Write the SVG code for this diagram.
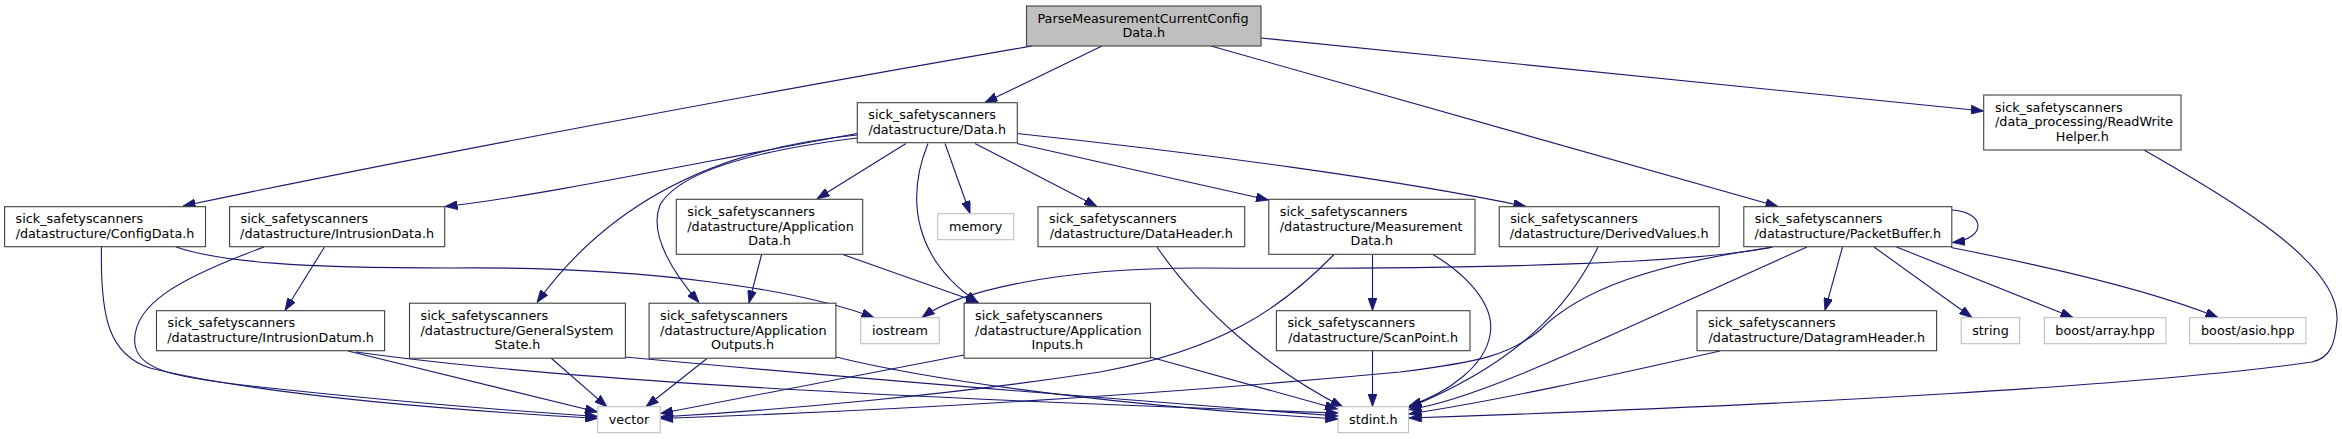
<svg xmlns="http://www.w3.org/2000/svg" width="2342" height="439" viewBox="0 0 2342 439">
<style>
  .n rect { fill: #ffffff; stroke: #404040; stroke-width: 1.1; }
  .n.root rect { fill: #bfbfbf; }
  .n.ext rect { stroke: #bfbfbf; }
  .n text { font-family: "DejaVu Sans", "Noto Sans", sans-serif; font-size: 12.75px; fill: #000000; }
  .n text.c { text-anchor: middle; }
  #edges path { fill: none; stroke: #191970; stroke-width: 1.1; marker-end: url(#arr); }
</style>
<defs>
  <marker id="arr" markerUnits="userSpaceOnUse" viewBox="0 0 12.5 9" refX="12.5" refY="4.5" markerWidth="12.5" markerHeight="9" orient="auto">
    <path d="M0,0 L12.5,4.5 L0,9 z" fill="#191970" stroke="#191970" stroke-width="0.8"/>
  </marker>
</defs>
<rect x="0" y="0" width="2342" height="439" fill="#ffffff"/>
<g id="edges">
  <path d="M1032,46 C800,86 450,150 183,206"/>
  <path d="M1102,46 L985,102.5"/>
  <path d="M1211,46 L1778,206.5"/>
  <path d="M1261,38 L1983.5,111"/>
  <path d="M857,133.5 C700,162 540,196 445,206.5"/>
  <path d="M857,135 C700,150 600,215 537,302.5"/>
  <path d="M857,138 C760,150 680,170 660,205 C648,235 675,275 699,302.5"/>
  <path d="M906,143.5 L817,198.8"/>
  <path d="M928,143.5 C905,200 915,260 978,302.5"/>
  <path d="M945,143.5 L970,213.5"/>
  <path d="M975,143.5 L1097,206.5"/>
  <path d="M1017,143.5 L1268.5,200"/>
  <path d="M1017,133.5 C1200,153 1400,180 1526,206.5"/>
  <path d="M101.5,247 C100,320 110,355 150,368 C260,395 450,410 597.5,418.5"/>
  <path d="M176,247 C220,262 300,268 450,268 C650,266 800,290 874,317.5"/>
  <path d="M324.5,247 L285,310.5"/>
  <path d="M264,247 C180,278 130,305 135,345 C140,372 180,378 260,387 C380,400 500,410 597.5,416.5"/>
  <path d="M348,351 L597.5,412"/>
  <path d="M356,352 C520,375 800,395 1338,413"/>
  <path d="M551,358 L607,406.8"/>
  <path d="M625,357 C850,378 1100,398 1338,416"/>
  <path d="M761.6,254.5 L749,303"/>
  <path d="M842.8,254.5 L978.6,302.5"/>
  <path d="M707,358.5 L646,406.8"/>
  <path d="M836,357 C950,385 1150,408 1338,419"/>
  <path d="M964,355 L660.5,413.5"/>
  <path d="M1150,357 L1337.5,409"/>
  <path d="M1334,254.5 C1280,310 1220,350 1100,372 C950,395 780,410 660.5,417"/>
  <path d="M1372.5,254.5 L1372.5,310.5"/>
  <path d="M1433,254.5 C1475,280 1495,310 1490,335 C1485,365 1450,392 1409,406"/>
  <path d="M1157,247 C1200,310 1270,370 1343,407"/>
  <path d="M1598,247 C1570,305 1520,362 1409,407.5"/>
  <path d="M1372.5,351 L1372.5,406.5"/>
  <path d="M1720,351 C1600,378 1500,400 1409,414"/>
  <path d="M1952,210 C1985,212 1988,238 1952.5,242.5"/>
  <path d="M1773,247 C1700,262 1500,270 1200,268 C1060,268 960,290 922,317.5"/>
  <path d="M1770,247.5 C1650,265 1580,290 1540,330 C1510,355 1480,362 1400,372 C1100,400 850,412 660.5,418.5"/>
  <path d="M1807,247 C1620,330 1480,400 1409,409.5"/>
  <path d="M1842.5,247 L1825,310.5"/>
  <path d="M1874,247 L1972,317.5"/>
  <path d="M1896.5,247 L2073,317.5"/>
  <path d="M1951,247.5 C2040,265 2150,290 2218,317.5"/>
  <path d="M2144,150 C2240,205 2340,265 2337,320 C2335,345 2330,358 2312,362 C2150,385 1800,405 1409,418"/>
</g>
<g id="root" class="n root">
  <rect x="1026.5" y="6" width="234.5" height="40"/>
  <text x="1037.5" y="22.5">ParseMeasurementCurrentConfig</text>
  <text class="c" x="1143.75" y="37.3">Data.h</text>
</g>
<g id="data" class="n">
  <rect x="857.3" y="102.7" width="160" height="40"/>
  <text x="868.3" y="119.2">sick_safetyscanners</text>
  <text class="c" x="937.3" y="134">/datastructure/Data.h</text>
</g>
<g id="readwritehelper" class="n">
  <rect x="1983.7" y="95" width="197.3" height="55"/>
  <text x="1995" y="111.5">sick_safetyscanners</text>
  <text x="1995" y="126.3">/data_processing/ReadWrite</text>
  <text class="c" x="2082.4" y="141.1">Helper.h</text>
</g>
<g id="configdata" class="n">
  <rect x="4.6" y="206.7" width="200.9" height="40"/>
  <text x="15.6" y="223.2">sick_safetyscanners</text>
  <text class="c" x="105" y="238">/datastructure/ConfigData.h</text>
</g>
<g id="intrusiondata" class="n">
  <rect x="229.6" y="206.7" width="215.1" height="40"/>
  <text x="240.6" y="223.2">sick_safetyscanners</text>
  <text class="c" x="337.1" y="238">/datastructure/IntrusionData.h</text>
</g>
<g id="applicationdata" class="n">
  <rect x="676.3" y="199.3" width="186.4" height="55"/>
  <text x="687.3" y="215.8">sick_safetyscanners</text>
  <text x="687.3" y="230.6">/datastructure/Application</text>
  <text class="c" x="769.5" y="245.4">Data.h</text>
</g>
<g id="memory" class="n ext">
  <rect x="937.7" y="213.7" width="76.1" height="26"/>
  <text class="c" x="975.75" y="231">memory</text>
</g>
<g id="dataheader" class="n">
  <rect x="1038" y="206.7" width="206.7" height="40"/>
  <text x="1049" y="223.2">sick_safetyscanners</text>
  <text class="c" x="1141.35" y="238">/datastructure/DataHeader.h</text>
</g>
<g id="measurementdata" class="n">
  <rect x="1268.8" y="199.3" width="206.2" height="55"/>
  <text x="1279.8" y="215.8">sick_safetyscanners</text>
  <text x="1279.8" y="230.6">/datastructure/Measurement</text>
  <text class="c" x="1371.9" y="245.4">Data.h</text>
</g>
<g id="derivedvalues" class="n">
  <rect x="1499.2" y="206.7" width="220" height="40"/>
  <text x="1510.2" y="223.2">sick_safetyscanners</text>
  <text class="c" x="1609.2" y="238">/datastructure/DerivedValues.h</text>
</g>
<g id="packetbuffer" class="n">
  <rect x="1743.8" y="206.7" width="208" height="40"/>
  <text x="1754.8" y="223.2">sick_safetyscanners</text>
  <text class="c" x="1847.8" y="238">/datastructure/PacketBuffer.h</text>
</g>
<g id="intrusiondatum" class="n">
  <rect x="156.5" y="310.7" width="228.1" height="40"/>
  <text x="167.5" y="327.2">sick_safetyscanners</text>
  <text class="c" x="270.55" y="342">/datastructure/IntrusionDatum.h</text>
</g>
<g id="generalsystemstate" class="n">
  <rect x="409.5" y="303.2" width="215.9" height="55"/>
  <text x="420.5" y="319.7">sick_safetyscanners</text>
  <text x="420.5" y="334.5">/datastructure/GeneralSystem</text>
  <text class="c" x="517.45" y="349.3">State.h</text>
</g>
<g id="applicationoutputs" class="n">
  <rect x="649.1" y="303.2" width="186.8" height="55"/>
  <text x="660.1" y="319.7">sick_safetyscanners</text>
  <text x="660.1" y="334.5">/datastructure/Application</text>
  <text class="c" x="742.5" y="349.3">Outputs.h</text>
</g>
<g id="iostream" class="n ext">
  <rect x="860.8" y="317.7" width="78.4" height="26"/>
  <text class="c" x="900" y="335">iostream</text>
</g>
<g id="applicationinputs" class="n">
  <rect x="964.1" y="303.2" width="186.4" height="55"/>
  <text x="975.1" y="319.7">sick_safetyscanners</text>
  <text x="975.1" y="334.5">/datastructure/Application</text>
  <text class="c" x="1057.3" y="349.3">Inputs.h</text>
</g>
<g id="scanpoint" class="n">
  <rect x="1276.4" y="310.7" width="193.6" height="40"/>
  <text x="1287.4" y="327.2">sick_safetyscanners</text>
  <text class="c" x="1373.2" y="342">/datastructure/ScanPoint.h</text>
</g>
<g id="datagramheader" class="n">
  <rect x="1697" y="310.7" width="239.6" height="40"/>
  <text x="1708" y="327.2">sick_safetyscanners</text>
  <text class="c" x="1816.8" y="342">/datastructure/DatagramHeader.h</text>
</g>
<g id="string" class="n ext">
  <rect x="1961.2" y="317.7" width="58.5" height="26"/>
  <text class="c" x="1990.45" y="335">string</text>
</g>
<g id="boostarray" class="n ext">
  <rect x="2044.3" y="317.7" width="121.6" height="26"/>
  <text class="c" x="2105.1" y="335">boost/array.hpp</text>
</g>
<g id="boostasio" class="n ext">
  <rect x="2189.6" y="317.7" width="116.3" height="26"/>
  <text class="c" x="2247.75" y="335">boost/asio.hpp</text>
</g>
<g id="vector" class="n ext">
  <rect x="597.8" y="406.7" width="62.4" height="26"/>
  <text class="c" x="629" y="424">vector</text>
</g>
<g id="stdint" class="n ext">
  <rect x="1338.1" y="406.7" width="70.4" height="26"/>
  <text class="c" x="1373.3" y="424">stdint.h</text>
</g>
</svg>
